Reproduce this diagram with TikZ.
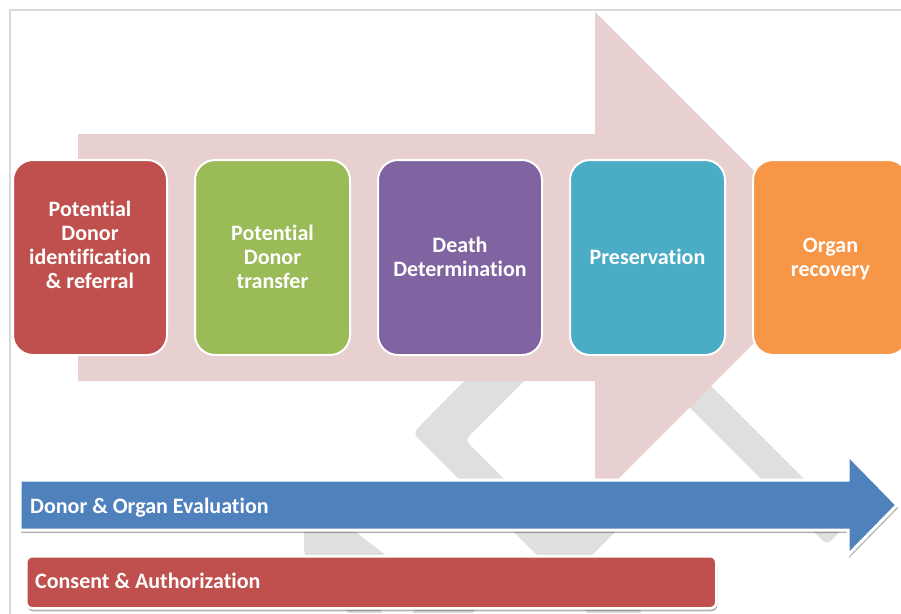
\documentclass[tikz,border=0pt]{standalone}
\usepackage{fontspec}
\setmainfont[Ligatures=NoCommon]{Carlito}
\usetikzlibrary{shadows}
\definecolor{redc}{HTML}{C0504D}
\definecolor{greenc}{HTML}{9BBB59}
\definecolor{purplec}{HTML}{8064A2}
\definecolor{tealc}{HTML}{4BACC6}
\definecolor{orangec}{HTML}{F79646}
\definecolor{bluec}{HTML}{4F81BD}
\definecolor{pinkc}{HTML}{E8D0D1}
\definecolor{grayc}{HTML}{DFDFDF}
\definecolor{framec}{HTML}{D9D9D9}
\begin{document}
\begin{tikzpicture}[x=1pt,y=-1pt,
  stepbox/.style={draw=white, line width=2pt, rounded corners=20pt, minimum height=195pt, inner sep=0pt, minimum width=#1},
  steptext/.style={text=white, font=\bfseries\fontsize{22}{24}\selectfont, align=center, inner sep=0pt},
  bartext/.style={text=white, font=\bfseries\fontsize{22}{24}\selectfont, inner sep=0pt, anchor=base west},
  graypiece/.style={fill=grayc, rounded corners=6pt},
  barshadow/.style={drop shadow={shadow xshift=1pt, shadow yshift=-3pt, fill=black, opacity=0.3}}
]
\clip (0,0) rectangle (901,613);
\fill[white] (0,0) rectangle (901,613);
% frame
\draw[framec, line width=2pt] (10,620) -- (10,10) -- (910,10);
% gray background pieces
\fill[graypiece] (480,365) -- (540,365) -- (465,440) -- (515,490) -- (470,490) -- (413,433) -- cycle;
\fill[graypiece] (642,360) -- (685,360) -- (848,523) -- (827,545) -- cycle;
\fill[graypiece, rounded corners=10pt] (304,522) -- (343,522) -- (392,560) -- (304,560) -- cycle;
\fill[graypiece, rounded corners=2pt] (510,528) -- (619,528) -- (588,559) -- (541,559) -- cycle;
\fill[grayc] (343,603) -- (377,603) -- (382,613) -- (348,613) -- cycle;
\fill[grayc] (417,603) -- (477,603) -- (473,613) -- (413,613) -- cycle;
\fill[grayc] (583,603) -- (637,603) -- (641,613) -- (587,613) -- cycle;
% big pink arrow
\fill[pinkc] (78,134) -- (595,134) -- (595,12) -- (840,257) -- (595,502) -- (595,381) -- (78,381) -- cycle;
% step boxes
\node[stepbox=154pt, fill=redc] (b1) at (90,257.5) {};
\node[stepbox=155pt, fill=greenc] (b2) at (272.5,257.5) {};
\node[stepbox=164pt, fill=purplec] (b3) at (460,257.5) {};
\node[stepbox=155pt, fill=tealc] (b4) at (647.5,257.5) {};
\node[stepbox=155pt, fill=orangec] (b5) at (830.5,257.5) {};
\node[steptext] (t1) at (90,245) {Potential\\Donor\\identification\\\& referral};
\node[steptext] (t2) at (272.5,256.5) {Potential\\Donor\\transfer};
\node[steptext] (t3) at (460,257) {Death\\Determination};
\node[steptext] (t4) at (647.5,256.5) {Preservation};
\node[steptext] (t5) at (830.5,259.5) {Organ\\recovery};
% blue arrow
\filldraw[fill=bluec, draw=white, line width=3pt, barshadow] (20,480) -- (848,480) -- (848,455) -- (897,505) -- (848,555) -- (848,530) -- (20,530) -- cycle;
\node[bartext] (t6) at (30,513) {Donor \& Organ Evaluation};
% red bar
\node[fill=redc, draw=white, line width=2.5pt, rounded corners=6pt, minimum width=690pt, minimum height=52pt, anchor=north west, inner sep=0pt, barshadow] (cbar) at (25,555) {};
\node[bartext] (t7) at (35,588) {Consent \& Authorization};
\end{tikzpicture}
\end{document}
